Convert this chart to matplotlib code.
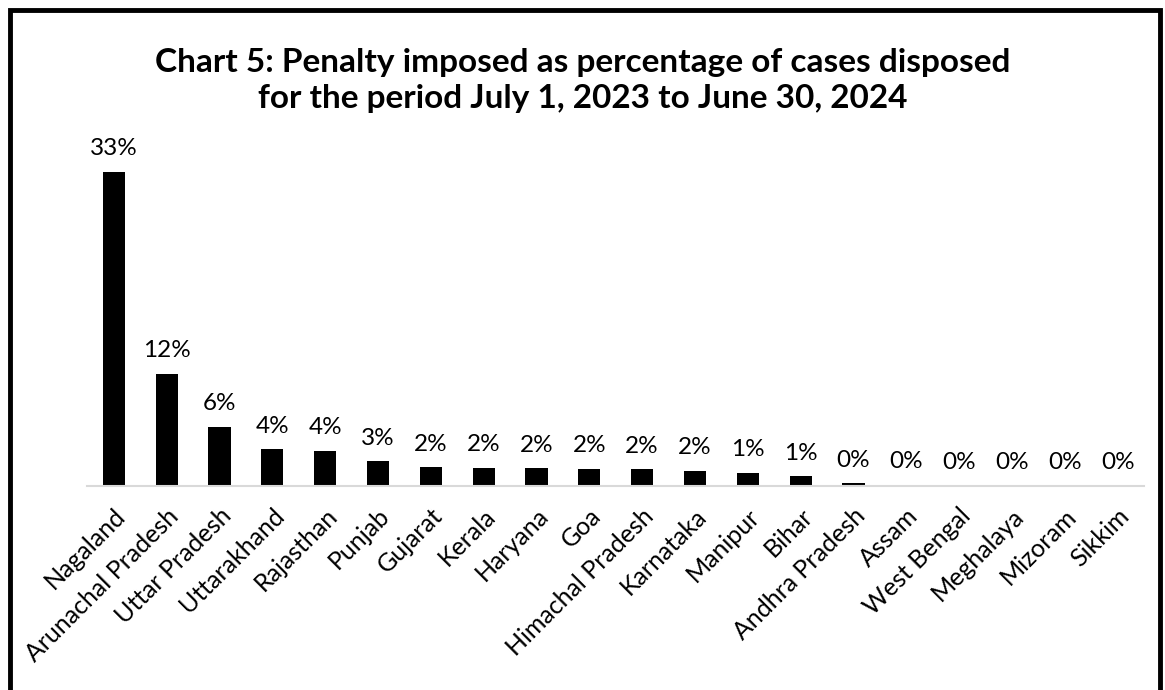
import matplotlib
matplotlib.use("Agg")
import matplotlib.pyplot as plt
from matplotlib.patches import Rectangle

plt.rcParams['font.family'] = ['Lato', 'DejaVu Sans']

states = ['Nagaland', 'Arunachal Pradesh', 'Uttar Pradesh', 'Uttarakhand', 'Rajasthan',
          'Punjab', 'Gujarat', 'Kerala', 'Haryana', 'Goa', 'Himachal Pradesh',
          'Karnataka', 'Manipur', 'Bihar', 'Andhra Pradesh', 'Assam', 'West Bengal',
          'Meghalaya', 'Mizoram', 'Sikkim']
penalty_pct = [33.0, 11.8, 6.2, 3.85, 3.7, 2.6, 1.95, 1.9, 1.85, 1.8, 1.75,
               1.6, 1.4, 1.0, 0.3, 0.15, 0.0, 0.0, 0.0, 0.0]

fig = plt.figure(figsize=(11.65, 6.9), dpi=100)
ax = fig.add_axes([0.075, 0.2957, 0.907, 0.4967])

x = range(len(states))
bars = ax.bar(x, penalty_pct, width=0.42, color='black')
for xi, v in zip(x, penalty_pct):
    ax.annotate(f'{v:.0f}%', (xi, v), xytext=(0, 9), textcoords='offset points',
                ha='center', va='bottom', fontsize=17.5)

ax.set_xlim(-0.5, len(states) - 0.5)
ax.set_ylim(0, 36)
ax.set_xticks(list(x))
ax.set_xticklabels(states, rotation=45, ha='right', rotation_mode='anchor', fontsize=18)
ax.tick_params(axis='x', length=0, pad=13)
ax.set_yticks([])
for side in ['top', 'left', 'right']:
    ax.spines[side].set_visible(False)
ax.spines['bottom'].set_color('#d9d9d9')
ax.spines['bottom'].set_linewidth(1.5)

fig.text(0.5, 0.883, 'Chart 5: Penalty imposed as percentage of cases disposed\n'
         'for the period July 1, 2023 to June 30, 2024',
         ha='center', va='center', fontsize=24, fontweight='bold', linespacing=1.3)

# outer frame
fig.patches.append(Rectangle((0.009, -0.05), 0.987, 1.035, transform=fig.transFigure,
                             fill=False, edgecolor='black', linewidth=3.5))

fig.savefig('out.png', dpi=100)
